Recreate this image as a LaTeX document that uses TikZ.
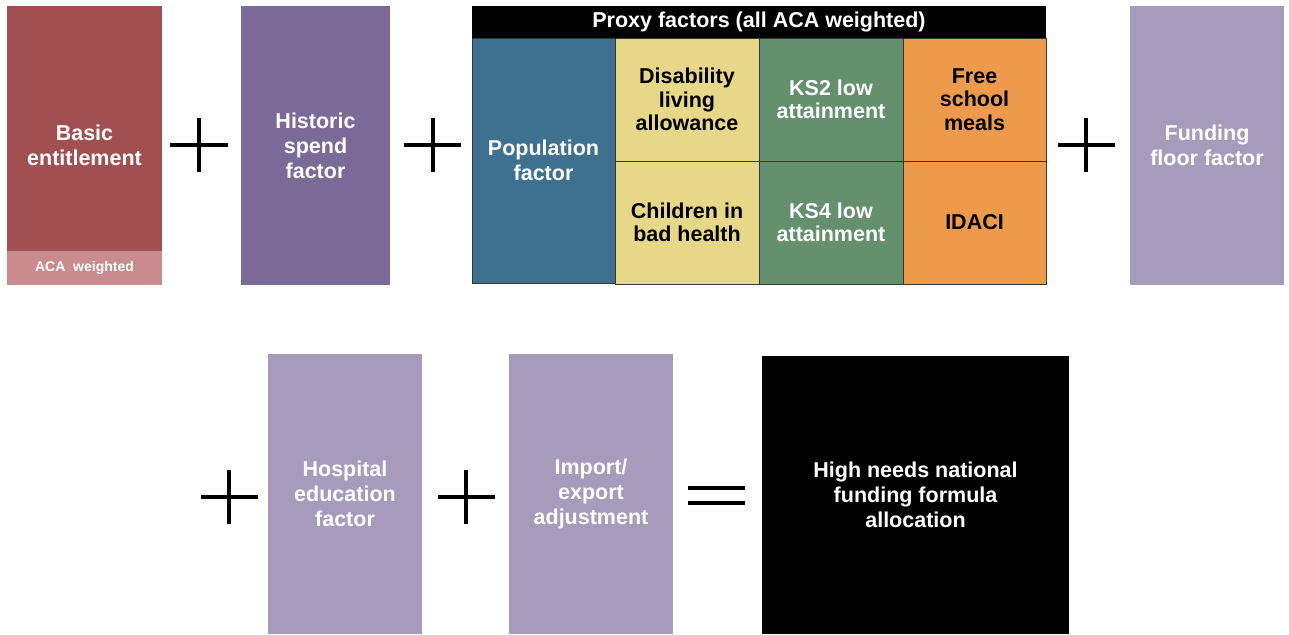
\documentclass[tikz,border=0pt]{standalone}
\usepackage{fontspec}
\setmainfont{Liberation Sans}
\definecolor{cRed}{HTML}{A15052}
\definecolor{cRedLight}{HTML}{C98B8D}
\definecolor{cPurple}{HTML}{7B6A98}
\definecolor{cBlue}{HTML}{3F7090}
\definecolor{cYellow}{HTML}{E6D789}
\definecolor{cGreen}{HTML}{64906E}
\definecolor{cOrange}{HTML}{EE9A4D}
\definecolor{cLilac}{HTML}{A79BBB}
\definecolor{cEdge}{HTML}{2E3A36}
\begin{document}
\begin{tikzpicture}[x=1pt,y=-1pt,
  box/.style={rectangle,anchor=north west,inner sep=0pt,outer sep=0pt,align=center,
    font=\fontsize{21.5}{25}\selectfont\bfseries,text=white},
  cell/.style={box,draw=cEdge,line width=0.8pt,minimum width=144pt,minimum height=123pt,
    font=\fontsize{21.5}{23.5}\selectfont\bfseries},
  opline/.style={line width=4.2pt,draw=black}]
\useasboundingbox (0,0) rectangle (1289,634);
% row 1
\node[box,fill=cRed,minimum width=155pt,minimum height=279pt] (basic) at (7,6) {Basic\\entitlement};
\node[box,fill=cRedLight,minimum width=155pt,minimum height=34pt,font=\fontsize{14}{16}\selectfont\bfseries] (aca) at (7,251) {ACA\ \ weighted};
\draw[opline] (170,145) -- (228,145) (199,118) -- (199,172);
\node[box,fill=cPurple,minimum width=149pt,minimum height=279pt] (hist) at (241,6) {Historic\\spend\\factor};
\draw[opline] (404,145) -- (461,145) (433,118) -- (433,172);
% proxy block
\node[box,fill=black,minimum width=574pt,minimum height=32pt,font=\fontsize{21.5}{25}\selectfont\bfseries] (proxy) at (472,6) {Proxy factors (all ACA weighted)};
\node[box,fill=cBlue,draw=cEdge,line width=0.8pt,minimum width=143pt,minimum height=245pt] (pop) at (472,38) {Population\\factor};
\node[cell,fill=cYellow,text=black] (dla) at (615,38) {Disability\\living\\allowance};
\node[cell,fill=cYellow,text=black] (cbh) at (615,161) {Children in\\bad health};
\node[cell,fill=cGreen] (ks2) at (759,38) {KS2 low\\attainment};
\node[cell,fill=cGreen] (ks4) at (759,161) {KS4 low\\attainment};
\node[cell,fill=cOrange,text=black,minimum width=143pt] (fsm) at (903,38) {Free\\school\\meals};
\node[cell,fill=cOrange,text=black,minimum width=143pt] (idaci) at (903,161) {IDACI};
\draw[opline] (1058,145) -- (1115,145) (1086,118) -- (1086,172);
\node[box,fill=cLilac,minimum width=154pt,minimum height=279pt] (floor) at (1130,6) {Funding\\floor factor};
% row 2
\draw[opline] (201,497) -- (258,497) (229,470) -- (229,524);
\node[box,fill=cLilac,minimum width=154pt,minimum height=280pt] (hosp) at (268,354) {Hospital\\education\\factor};
\draw[opline] (438,497) -- (495,497) (466,470) -- (466,524);
\node[box,fill=cLilac,minimum width=164pt,minimum height=280pt] (imp) at (509,354) {Import/\\export\\adjustment};
\draw[opline] (688,488) -- (745,488) (688,503) -- (745,503);
\node[box,fill=black,minimum width=307pt,minimum height=278pt] (alloc) at (762,356) {High needs national\\funding formula\\allocation};
\end{tikzpicture}
\end{document}
